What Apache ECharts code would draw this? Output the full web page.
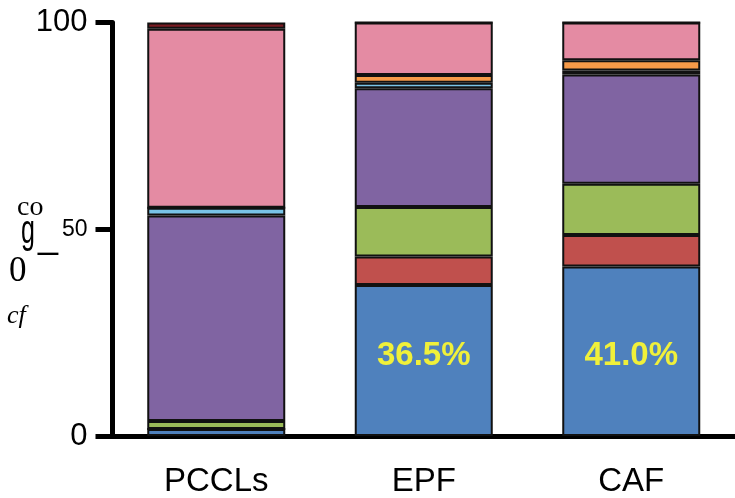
<!DOCTYPE html>
<html>
<head>
<meta charset="utf-8">
<script src="https://cdn.jsdelivr.net/npm/echarts@6/dist/echarts.min.js"></script>
<style>
  html, body { margin: 0; padding: 0; background: #ffffff; }
  #chart { width: 735px; height: 498px; }
</style>
</head>
<body>
<div id="chart"></div>
<script>
// Cell-type composition (% of cells) per sample group
const categories = ['PCCLs', 'EPF', 'CAF'];

const seriesNames  = ['s1', 's2', 's3', 's4', 's5', 's6', 's7', 's8'];
const seriesColors = ['#4F81BD', '#C0504D', '#9BBB59', '#8064A2', '#79C3E6', '#F79A48', '#E48BA3', '#7A1B22'];

const blueVals     = [1.7, 36.5, 41.0];
const redVals      = [0, 6.9, 7.6];
const greenVals    = [1.9, 12.0, 12.4];
const purpleVals   = [49.7, 28.7, 26.4];
const lightBlueVals= [1.9, 1.3, 1.0];
const orangeVals   = [0, 1.9, 2.5];
const pinkVals     = [43.3, 12.7, 9.1];
const darkRedVals  = [1.5, 0, 0];

const yTicks = [0, 50, 100];

const seriesValues = [blueVals, redVals, greenVals, purpleVals, lightBlueVals, orangeVals, pinkVals, darkRedVals];

const chart = echarts.init(document.getElementById('chart'));

const series = seriesValues.map((vals, i) => {
  const s = {
    name: seriesNames[i],
    type: 'bar',
    stack: 'total',
    data: vals,
    barWidth: 138,
    itemStyle: { color: seriesColors[i], borderColor: '#111111', borderWidth: 2 },
    emphasis: { disabled: true },
    animation: false
  };
  if (i === 0) {
    s.label = {
      show: true,
      position: 'insideBottom',
      distance: 64,
      fontFamily: 'Liberation Sans',
      fontWeight: 'bold',
      fontSize: 33,
      lineHeight: 33,
      color: '#F0F03A',
      formatter: p => p.dataIndex === 0 ? '' : p.value.toFixed(1) + '%'
    };
  }
  return s;
});

// stray glyphs of the rotated axis caption
const captionStyle = (text, size, family, extra) => Object.assign({
  text: text, fontSize: size, fontFamily: family, fill: '#000',
  verticalAlign: 'middle', align: 'left'
}, extra || {});

chart.setOption({
  animation: false,
  backgroundColor: '#ffffff',
  grid: { left: 112.5, right: 0, top: 22.5, bottom: 61.5, containLabel: false },
  xAxis: {
    type: 'category',
    data: categories,
    axisLine: { lineStyle: { color: '#000', width: 5 } },
    axisTick: { alignWithLabel: true, length: 15, lineStyle: { color: '#000', width: 4 } },
    axisLabel: { margin: 29, fontFamily: 'Liberation Sans', fontSize: 33, color: '#000' }
  },
  yAxis: {
    type: 'value',
    min: yTicks[0],
    max: yTicks[yTicks.length - 1],
    interval: yTicks[1] - yTicks[0],
    splitLine: { show: false },
    axisLine: { show: true, lineStyle: { color: '#000', width: 5 } },
    axisTick: { show: true, length: 17, lineStyle: { color: '#000', width: 5 } },
    axisLabel: {
      margin: 25,
      color: '#000',
      formatter: v => v === 50 ? '{m|' + v + '}' : '{b|' + v + '}',
      rich: {
        b: { fontFamily: 'Liberation Sans', fontSize: 31, color: '#000' },
        m: { fontFamily: 'Liberation Sans', fontSize: 23, color: '#000' }
      }
    }
  },
  graphic: [
    { type: 'text', x: 17, y: 208, silent: true,
      style: captionStyle('co', 28, 'Liberation Serif') },
    { type: 'text', x: 21, y: 232, scaleY: 1.65, silent: true,
      style: captionStyle('g', 25, 'Liberation Sans') },
    { type: 'text', x: 38, y: 238, silent: true,
      style: captionStyle('_', 36, 'Liberation Sans') },
    { type: 'text', x: 9, y: 271.5, silent: true,
      style: captionStyle('0', 35, 'Liberation Serif') },
    { type: 'text', x: 7, y: 316, silent: true,
      style: captionStyle('cf', 26, 'Liberation Serif', { fontStyle: 'italic' }) }
  ],
  series: series
});
</script>
</body>
</html>
